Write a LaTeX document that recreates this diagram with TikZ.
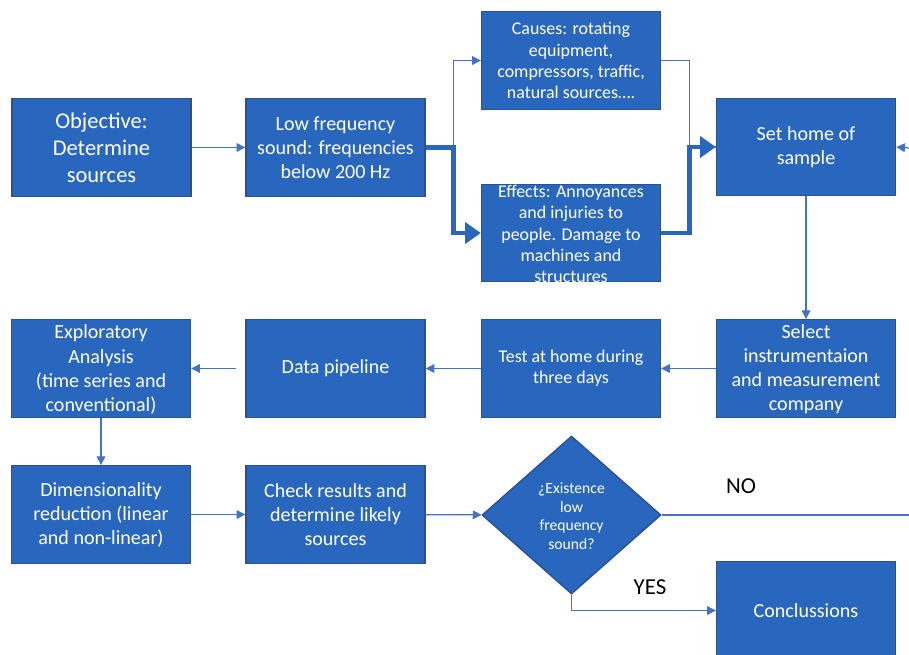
\documentclass[tikz,border=0pt]{standalone}
\usepackage{fontspec}
\setmainfont{Carlito}
\usetikzlibrary{shapes.geometric,arrows.meta}
\definecolor{boxfill}{RGB}{41,102,190}
\definecolor{boxline}{RGB}{44,80,145}
\definecolor{conn}{RGB}{68,114,196}
\tikzset{
  stepbox/.style={rectangle,draw=boxline,line width=0.8pt,fill=boxfill,minimum width=3.58cm,minimum height=1.95cm,inner sep=0pt},
  boxtext/.style={text=white,align=center,font=\fontsize{11.4}{13.7}\selectfont},
  bigtext/.style={text=white,align=center,font=\fontsize{12.8}{15.3}\selectfont},
  smalltext/.style={text=white,align=center,font=\fontsize{10.2}{12.1}\selectfont},
  thinarrow/.style={draw=conn,line width=0.7pt,-{Triangle[length=5pt,width=5pt]}},
  thinline/.style={draw=conn,line width=0.7pt},
  thickarrow/.style={draw=boxfill,line width=2.8pt,-{Triangle[length=9pt,width=12pt]}},
  lbl/.style={text=black,font=\fontsize{13}{15}\selectfont}
}
\begin{document}
\begin{tikzpicture}[x=0.02cm,y=-0.02cm]
\useasboundingbox (0,0) rectangle (909,654);
\clip (0,0) rectangle (909,654);
% boxes
\node[stepbox] (OB) at (101.5,147.5) {};
\node[bigtext] (OBt) at (OB) {Objective:\\Determine\\sources};
\node[stepbox] (LF) at (335.5,147.5) {};
\node[boxtext] (LFt) at (LF) {Low frequency\\sound: frequencies\\below 200 Hz};
\node[stepbox] (CA) at (571,60.5) {};
\node[smalltext] (CAt) at (CA) {Causes: rotating\\equipment,\\compressors, traffic,\\natural sources\dots.};
\node[stepbox] (EF) at (571,233) {};
\node[smalltext] (EFt) at (571,234) {Effects: Annoyances\\and injuries to\\people. Damage to\\machines and\\structures};
\node[stepbox] (SH) at (806,147) {};
\node[boxtext] (SHt) at (SH) {Set home of\\sample};
\node[stepbox] (SE) at (806,368.5) {};
\node[boxtext] (SEt) at (806,369.5) {Select\\instrumentaion\\and measurement\\company};
\node[stepbox] (TE) at (571,368.5) {};
\node[smalltext] (TEt) at (TE) {Test at home during\\three days};
\node[stepbox] (DP) at (335.5,368.5) {};
\node[boxtext] (DPt) at (DP) {Data pipeline};
\node[stepbox] (EX) at (101,368.5) {};
\node[boxtext] (EXt) at (101,369.5) {Exploratory\\Analysis\\(time series and\\conventional)};
\node[stepbox] (DR) at (101,514.5) {};
\node[boxtext] (DRt) at (DR) {Dimensionality\\reduction (linear\\and non-linear)};
\node[stepbox] (CR) at (335.5,514.5) {};
\node[boxtext] (CRt) at (CR) {Check results and\\determine likely\\sources};
\node[diamond,draw=boxline,line width=0.8pt,fill=boxfill,minimum width=3.58cm,minimum height=3.16cm,inner sep=0pt] (DI) at (571.5,515) {};
\node[text=white,align=center,font=\fontsize{8.9}{10.6}\selectfont] (DIt) at (571.5,516) {¿Existence\\low\\frequency\\sound?};
\node[stepbox] (CO) at (806,610.5) {};
\node[boxtext] (COt) at (806,611) {Conclussions};
% labels
\node[lbl] (NO) at (741,486) {NO};
\node[lbl] (YES) at (650,587) {YES};
% coordinates
\coordinate (RE) at (909,148);
\coordinate (NE) at (909,515);
% connectors
\draw[thinarrow] (OB) -- (LF);
\draw[thinarrow] (LF.east) -- ++(28,0) |- (CA.west);
\draw[thinline] (CA.east) -- ++(28,0) |- (SH.west);
\draw[thickarrow] (LF.east) -- ++(28,0) |- (EF.west);
\draw[thickarrow] (EF.east) -- ++(28,0) |- (SH.west);
\draw[thinarrow] (RE) -- (SH.east);
\draw[thinarrow] (SH) -- (SE);
\draw[thinarrow] (SE) -- (TE);
\draw[thinarrow] (TE) -- (DP);
\draw[thinarrow] (DP.west) ++(-9,0) -- (EX.east);
\draw[thinarrow] (EX) -- (DR);
\draw[thinarrow] (DR) -- (CR);
\draw[thinarrow] (CR) -- (DI);
\draw[thinline] (DI.east) -- (NE);
\draw[thinarrow] (DI.south) |- (CO.west);
\end{tikzpicture}
\end{document}
